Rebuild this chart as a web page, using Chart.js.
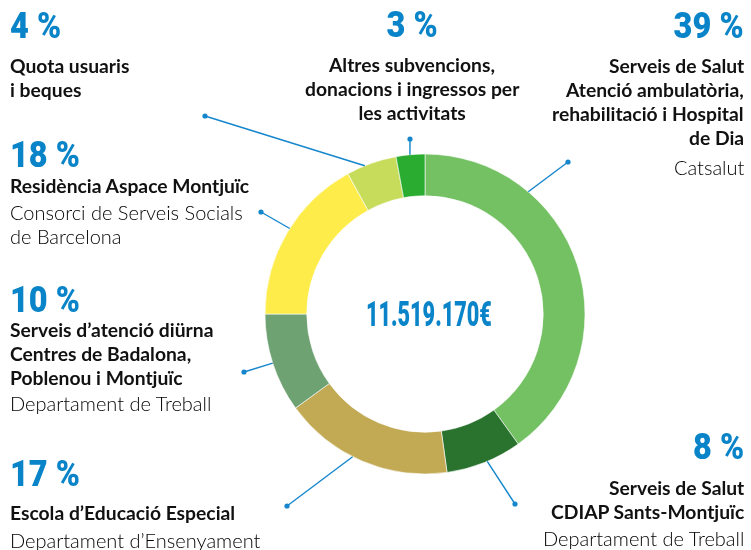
<!DOCTYPE html>
<html lang="ca">
<head>
<meta charset="utf-8">
<title>Ingressos</title>
<script src="https://cdn.jsdelivr.net/npm/chart.js@4/dist/chart.umd.min.js"></script>
<style>
  html, body { margin: 0; padding: 0; background: #fff; }
  #wrap { position: relative; width: 751px; height: 550px; overflow: hidden; }
  #chart { position: absolute; left: 0; top: 0; }
  .line { position: absolute; white-space: nowrap; line-height: 24px; font-family: Lato, "Open Sans", sans-serif; color: #111; }
  .line.b { font-weight: 700; font-size: 19.3px; }
  .line.l { font-weight: 300; font-size: 20px; color: #000; }
  .pct, .total {
    position: absolute; white-space: nowrap; color: #0a84c8;
    font-family: Roboto, "Liberation Sans", sans-serif; font-weight: 900;
    line-height: 1;
  }
</style>
</head>
<body>
<div id="wrap">
  <canvas id="chart" width="751" height="550"></canvas>
</div>
<script>
// values read from the arcs, clockwise from 12 o'clock
const categories = ['Serveis de Salut (Catsalut)', 'CDIAP Sants-Montjuïc', 'Escola d’Educació Especial',
  'Serveis d’atenció diürna', 'Residència Aspace Montjuïc', 'Quota usuaris i beques', 'Altres subvencions'];
const shares = [40.1, 7.7, 17.2, 10.0, 17.0, 5.1, 2.9];
const percentLabels = ['39 %', '8 %', '17 %', '10 %', '18 %', '4 %', '3 %'];
const boldLines = [
  ['Serveis de Salut', 'Atenció ambulatòria,', 'rehabilitació i Hospital', 'de Dia'],
  ['Serveis de Salut', 'CDIAP Sants-Montjuïc'],
  ['Escola d’Educació Especial'],
  ['Serveis d’atenció diürna', 'Centres de Badalona,', 'Poblenou i Montjuïc'],
  ['Residència Aspace Montjuïc'],
  ['Quota usuaris', 'i beques'],
  ['Altres subvencions,', 'donacions i ingressos per', 'les activitats']
];
const lightLines = [
  ['Catsalut'],
  ['Departament de Treball'],
  ['Departament d’Ensenyament'],
  ['Departament de Treball'],
  ['Consorci de Serveis Socials', 'de Barcelona'],
  [],
  []
];
const totalLabel = '11.519.170€';
const colors = ['#74c163', '#29732f', '#c2aa55', '#6fa272', '#fdec4a', '#c7dc5b', '#29ac30'];

// label placement: anchor x, alignment, baseline of the % figure, baseline of first text line
const labelPos = [
  { x: 744, align: 'right', num: 38, text: 73, gap: [0, 0, 0, 0, 5] },
  { x: 744, align: 'right', num: 459, text: 495, gap: [0, 0, 2] },
  { x: 10, align: 'left', num: 486, text: 520, gap: [0, 3] },
  { x: 10, align: 'left', num: 312, text: 337, gap: [0, 0, 0, 1] },
  { x: 10, align: 'left', num: 167, text: 193, gap: [0, 2, 0] },
  { x: 10, align: 'left', num: 38, text: 73, gap: [0, 0] },
  { x: 412, align: 'center', num: 37, text: 72, gap: [0, 0, 0] }
];
// leader lines: angle on the ring (deg from top, clockwise) and dot offset from the centre
const leaderAngles = [40.2, 157.1, 206.9, 252.1, 302.3, 337.9, 354.6];
const leaderDots = [[143, -152], [90, 190], [-138, 192], [-181, 58], [-164, -102], [-220, -198], [-15, -175]];

const wrap = document.getElementById('wrap');
const LH = 24;

function place(el, pos) {
  const w = el.offsetWidth;
  if (pos.align === 'left') el.style.left = pos.x + 'px';
  if (pos.align === 'right') el.style.left = (pos.x - w) + 'px';
  if (pos.align === 'center') el.style.left = (pos.x - w / 2) + 'px';
  el.style.transformOrigin = pos.align;
}

function addPct(text, pos) {
  const el = document.createElement('div');
  el.className = 'pct';
  el.textContent = text;
  el.style.fontSize = '37px';
  // baseline of Roboto at line-height 1 is ~0.842em below the top
  el.style.top = (pos.num - 31) + 'px';
  wrap.appendChild(el);
  place(el, pos);
  el.style.transform = 'scaleX(0.88)';
}

function addLine(text, cls, baseline, pos) {
  const el = document.createElement('div');
  el.className = 'line ' + cls;
  el.textContent = text;
  el.style.top = (baseline - 19.4) + 'px';
  wrap.appendChild(el);
  place(el, pos);
}

percentLabels.forEach((p, i) => {
  const pos = labelPos[i];
  addPct(p, pos);
  let y = pos.text;
  const all = boldLines[i].map(t => [t, 'b']).concat(lightLines[i].map(t => [t, 'l']));
  all.forEach((item, k) => {
    y += (pos.gap[k] || 0);
    addLine(item[0], item[1], y, pos);
    y += LH;
  });
});

const leaderPlugin = {
  id: 'leaders',
  afterDraw(chart) {
    const arc = chart.getDatasetMeta(0).data[0];
    if (!arc) return;
    const ctx = chart.ctx;
    const cx = arc.x, cy = arc.y, r = arc.outerRadius;
    ctx.save();
    ctx.strokeStyle = '#1586cc';
    ctx.fillStyle = '#1586cc';
    ctx.lineWidth = 1.4;
    leaderAngles.forEach((a, i) => {
      const rad = a * Math.PI / 180;
      const sx = cx + r * Math.sin(rad);
      const sy = cy - r * Math.cos(rad);
      const ex = cx + leaderDots[i][0];
      const ey = cy + leaderDots[i][1];
      ctx.beginPath();
      ctx.moveTo(sx, sy);
      ctx.lineTo(ex, ey);
      ctx.stroke();
      ctx.beginPath();
      ctx.arc(ex, ey, 2.6, 0, Math.PI * 2);
      ctx.fill();
    });
    ctx.restore();
  }
};

const chart = new Chart(document.getElementById('chart'), {
  type: 'doughnut',
  data: {
    labels: categories,
    datasets: [{
      data: shares,
      backgroundColor: colors,
      borderColor: '#ffffff',
      borderWidth: 0.6,
      hoverOffset: 0,
      radius: 160,
      cutout: 118
    }]
  },
  options: {
    responsive: false,
    animation: false,
    events: [],
    layout: { padding: { left: 265, right: 166, top: 154, bottom: 76 } },
    plugins: {
      legend: { display: false },
      tooltip: { enabled: false }
    }
  },
  plugins: [leaderPlugin]
});

// total in the centre of the ring
const total = document.createElement('div');
total.className = 'total';
total.textContent = totalLabel;
total.style.fontSize = '35px';
wrap.appendChild(total);
const tw = total.offsetWidth;
const center = chart.getDatasetMeta(0).data[0];
total.style.left = (center.x + 4 - tw / 2) + 'px';
total.style.top = (center.y + 12 - 29.5) + 'px';
total.style.transformOrigin = 'center';
total.style.transform = 'scaleX(' + (126 / tw).toFixed(3) + ')';
</script>
</body>
</html>
